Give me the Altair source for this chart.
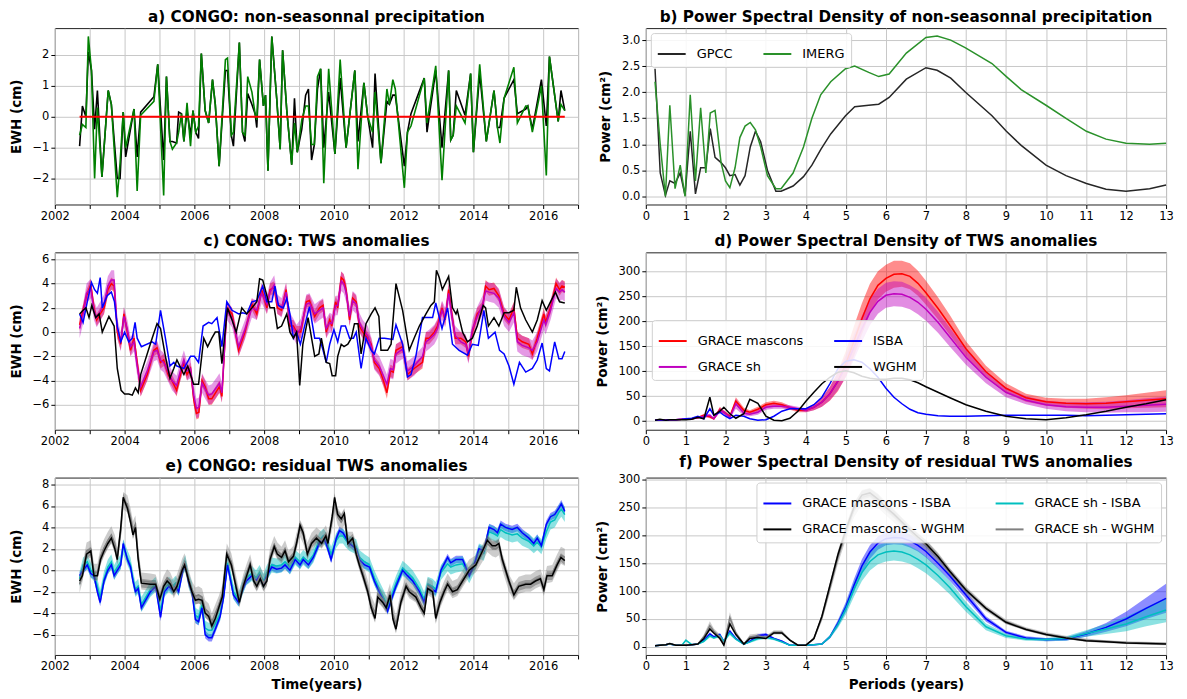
import altair as alt
import pandas as pd

FONT = "DejaVu Sans"

# ---------------- a) precipitation anomalies ----------------
precip_time = [2002.71, 2002.79, 2002.89, 2002.96, 2003.05, 2003.14, 2003.22, 2003.35, 2003.53, 2003.62,
               2003.79, 2003.87, 2003.96, 2004.03, 2004.27, 2004.36, 2004.46, 2004.84, 2004.95, 2005.12,
               2005.20, 2005.30, 2005.37, 2005.49, 2005.55, 2005.63, 2005.70, 2005.79, 2005.89, 2005.96,
               2006.04, 2006.12, 2006.20, 2006.31, 2006.41, 2006.52, 2006.60, 2006.71, 2006.89, 2006.95,
               2007.06, 2007.12, 2007.29, 2007.38, 2007.45, 2007.53, 2007.65, 2007.74, 2007.79, 2007.87,
               2007.98, 2008.04, 2008.11, 2008.22, 2008.36, 2008.46, 2008.53, 2008.65, 2008.79, 2008.87,
               2008.95, 2009.08, 2009.19, 2009.27, 2009.36, 2009.44, 2009.53, 2009.62, 2009.71, 2009.85,
               2010.03, 2010.18, 2010.35, 2010.60, 2010.69, 2010.86, 2010.97, 2011.11, 2011.18, 2011.35,
               2011.52, 2011.59, 2011.69, 2011.76, 2012.02, 2012.11, 2012.21, 2012.59, 2012.67, 2012.92,
               2013.10, 2013.29, 2013.35, 2013.42, 2013.51, 2013.76, 2013.92, 2014.00, 2014.18, 2014.37,
               2014.59, 2014.69, 2014.76, 2014.88, 2015.16, 2015.26, 2015.50, 2015.56, 2015.69, 2015.95,
               2016.09, 2016.18, 2016.43, 2016.51, 2016.62]
gpcc_ts = [-0.95, 0.35, 0.0, 2.1, 1.5, -0.4, 0.85, -1.95, 0.85, 0.4,
           -2.0, -2.0, 0.15, -1.3, 0.25, -1.3, 0.15, 0.65, 1.7, -1.4,
           1.3, -0.8, -0.8, -0.85, 0.15, 0.1, -0.8, 0.2, -0.6, 0.2,
           -0.5, -0.7, 2.05, 0.2, -0.2, 1.2, 0.4, -1.6, 1.5, 1.5,
           -0.6, -0.95, 2.4, -0.5, -0.8, 0.75, 0.4, 0.1, -0.35, 1.85,
           0.35, 0.7, -1.75, 2.6, 0.6, -1.05, 2.15, 0.2, -1.55, 0.6,
           -1.15, -0.4, 0.7, 0.9, -1.4, -0.9, 0.9, 1.55, -1.0, 0.8,
           -1.2, 1.25, -1.0, 1.5, -0.8, 1.1, 0.0, -1.0, 1.4, -1.5,
           0.5, 0.4, 0.7, 0.7, -1.6, -0.5, 0.1, 1.25, -0.5, 1.5,
           -1.0, 1.5, -0.75, -0.6, 0.85, 0.05, 1.4, -1.15, 1.4, -0.8,
           0.85, -0.35, -0.35, 0.6, 1.2, 0.1, 0.25, 0.35, -0.4, 1.2,
           -0.3, 1.95, -0.15, 0.85, 0.2]
imerg_ts = [-0.6, -0.25, -0.35, 2.6, 1.5, -2.0, 0.3, -1.95, 0.85, 0.4,
            -2.6, -1.5, 0.15, -1.0, 0.25, -2.4, 0.05, 0.5, 1.7, -2.55,
            1.3, -0.8, -1.05, -0.85, -0.5, 0.1, -0.8, 0.45, -0.95, 0.2,
            -0.5, -0.3, 2.05, 0.2, -0.2, 1.2, 0.4, -1.6, 1.85, 1.9,
            -0.6, -0.5, 2.4, -0.5, -0.6, 1.3, 0.8, 0.1, -0.1, 1.85,
            0.35, 0.7, -1.75, 2.6, 0.6, -1.05, 2.15, 0.2, -1.55, -0.2,
            -1.15, -0.1, 0.35, 0.35, -0.9, -0.9, 1.3, 1.55, -2.15, 1.55,
            -1.2, 1.85, -1.0, 1.5, -1.7, 1.1, 0.0, -0.5, 0.8, -1.5,
            0.9, 0.4, 1.2, 0.9, -2.3, -0.5, -0.3, 1.25, -0.2, 1.65,
            -2.05, 1.5, -0.75, -0.6, 0.35, -0.2, 1.4, -1.15, 1.7, -0.8,
            0.85, -0.35, -0.85, 0.6, 1.6, -0.2, 0.35, 0.35, -0.5, 1.0,
            -1.9, 1.95, -0.15, 0.4, 0.2]
zero_time = [2002.71, 2016.62]
zero_val = [0.0, 0.0]

# ---------------- c) TWS anomalies ----------------
tws_mascons = [
    (2002.71, 0.6), (2002.81, 1.8), (2002.91, 3.0), (2003.03, 3.9), (2003.12, 2.0), (2003.20, 1.0), (2003.30, 1.5), (2003.41, 2.0), (2003.52, 3.5), (2003.62, 4.0),
    (2003.70, 3.8), (2003.79, 0.0), (2003.89, -1.0), (2003.98, 1.5), (2004.08, 0.0), (2004.17, -1.5), (2004.27, -0.5), (2004.36, -2.5), (2004.46, -4.8), (2004.65, -3.5),
    (2004.84, -1.5), (2004.93, -1.3), (2005.03, -2.5), (2005.12, -2.3), (2005.25, -3.5), (2005.36, -4.0), (2005.49, -4.8), (2005.60, -3.5), (2005.70, -2.5), (2005.79, -3.5),
    (2005.89, -3.0), (2005.98, -5.5), (2006.06, -6.7), (2006.13, -6.6), (2006.22, -4.0), (2006.31, -4.5), (2006.41, -5.5), (2006.50, -5.5), (2006.65, -4.8), (2006.72, -4.5),
    (2006.79, -5.3), (2006.93, 2.0), (2007.08, 1.5), (2007.27, -1.5), (2007.45, 0.0), (2007.65, 2.3), (2007.79, 1.5), (2007.93, 3.5), (2008.08, 2.0), (2008.17, 3.5),
    (2008.29, 3.7), (2008.38, 2.0), (2008.50, 1.8), (2008.63, 3.5), (2008.74, 0.5), (2008.84, 0.5), (2008.93, 0.0), (2009.05, 0.0), (2009.21, 2.5), (2009.30, 2.6),
    (2009.45, 1.3), (2009.59, 2.0), (2009.69, 2.2), (2009.78, 0.0), (2009.88, 1.0), (2009.94, 0.5), (2010.05, 2.5), (2010.11, 2.0), (2010.21, 4.5), (2010.28, 4.3),
    (2010.35, 3.5), (2010.45, 1.0), (2010.54, 2.8), (2010.64, 2.5), (2010.73, 0.5), (2010.83, 0.0), (2010.97, -0.5), (2011.07, -1.0), (2011.16, -2.5), (2011.30, -3.0),
    (2011.42, -4.0), (2011.52, -5.0), (2011.62, -3.2), (2011.70, -3.3), (2011.78, -1.5), (2011.97, -1.2), (2012.11, -3.5), (2012.30, -3.0), (2012.54, -2.5), (2012.64, -0.5),
    (2012.73, -0.5), (2012.88, 0.0), (2012.97, 0.5), (2013.10, 2.0), (2013.19, 1.0), (2013.29, 3.5), (2013.38, 1.5), (2013.48, -0.5), (2013.64, -0.5), (2013.78, -0.8),
    (2013.86, -2.0), (2013.97, 0.0), (2014.11, 1.5), (2014.26, 2.0), (2014.35, 3.8), (2014.45, 3.5), (2014.59, 3.6), (2014.73, 3.0), (2014.88, 1.5), (2015.02, 1.0),
    (2015.16, 2.0), (2015.26, -0.5), (2015.40, -0.8), (2015.59, -1.0), (2015.69, -1.8), (2015.83, -0.5), (2016.02, 1.5), (2016.07, 0.8), (2016.21, 2.0), (2016.37, 4.0),
    (2016.47, 3.5), (2016.54, 3.8), (2016.62, 3.7)]
tws_sh = [
    (2002.71, 0.3), (2002.81, 1.5), (2002.91, 3.2), (2003.03, 3.6), (2003.12, 1.8), (2003.20, 1.2), (2003.30, 1.7), (2003.41, 2.3), (2003.52, 3.8), (2003.62, 4.3),
    (2003.70, 4.3), (2003.79, 0.3), (2003.89, -0.8), (2003.98, 1.3), (2004.08, 0.2), (2004.17, -1.2), (2004.27, -0.8), (2004.36, -2.8), (2004.46, -4.5), (2004.65, -3.2),
    (2004.84, -1.6), (2004.93, -1.5), (2005.03, -2.3), (2005.12, -2.5), (2005.25, -3.3), (2005.36, -4.0), (2005.49, -4.4), (2005.60, -3.2), (2005.70, -2.3), (2005.79, -3.2),
    (2005.89, -3.0), (2005.98, -5.2), (2006.06, -6.3), (2006.13, -6.2), (2006.22, -4.2), (2006.31, -4.7), (2006.41, -5.2), (2006.50, -5.1), (2006.65, -4.5), (2006.72, -4.2),
    (2006.79, -5.0), (2006.93, 1.8), (2007.08, 1.2), (2007.27, -1.2), (2007.45, 0.2), (2007.65, 2.0), (2007.79, 1.8), (2007.93, 3.2), (2008.08, 2.3), (2008.17, 3.3),
    (2008.29, 3.9), (2008.38, 2.3), (2008.50, 2.0), (2008.63, 3.3), (2008.74, 0.8), (2008.84, 0.3), (2008.93, -0.2), (2009.05, 0.3), (2009.21, 2.3), (2009.30, 2.4),
    (2009.45, 1.5), (2009.59, 1.8), (2009.69, 2.0), (2009.78, 0.3), (2009.88, 0.8), (2009.94, 0.7), (2010.05, 2.2), (2010.11, 2.2), (2010.21, 4.2), (2010.28, 4.0),
    (2010.35, 3.3), (2010.45, 1.3), (2010.54, 2.6), (2010.64, 2.3), (2010.73, 0.8), (2010.83, 0.2), (2010.97, -0.3), (2011.07, -1.2), (2011.16, -2.3), (2011.30, -2.8),
    (2011.42, -3.6), (2011.52, -4.3), (2011.62, -3.0), (2011.70, -3.1), (2011.78, -1.8), (2011.97, -1.4), (2012.11, -3.2), (2012.30, -2.8), (2012.54, -2.0), (2012.64, -0.8),
    (2012.73, -0.6), (2012.88, -0.2), (2012.97, 0.3), (2013.10, 1.8), (2013.19, 1.2), (2013.29, 3.2), (2013.38, 1.3), (2013.48, -0.3), (2013.64, -0.8), (2013.78, -1.0),
    (2013.86, -1.8), (2013.97, 0.2), (2014.11, 1.3), (2014.26, 2.2), (2014.35, 3.4), (2014.45, 3.3), (2014.59, 3.2), (2014.73, 2.8), (2014.88, 1.3), (2015.02, 0.8),
    (2015.16, 1.6), (2015.26, -0.8), (2015.40, -1.1), (2015.59, -1.3), (2015.69, -1.5), (2015.83, -0.8), (2016.02, 1.0), (2016.07, 0.6), (2016.21, 1.8), (2016.37, 3.6),
    (2016.47, 3.3), (2016.54, 3.5), (2016.62, 3.3)]
tws_isba = [
    (2002.71, 1.5), (2002.81, 0.8), (2002.93, 2.5), (2003.05, 4.1), (2003.14, 3.5), (2003.22, 3.2), (2003.30, 4.5), (2003.36, 2.0), (2003.50, 3.0), (2003.62, 3.3),
    (2003.71, 2.5), (2003.79, 0.5), (2003.89, -0.8), (2004.00, 0.0), (2004.12, -0.8), (2004.22, -0.5), (2004.30, 0.8), (2004.36, -0.5), (2004.48, -1.2), (2004.79, -0.8),
    (2004.89, -1.0), (2005.03, 1.8), (2005.17, -0.5), (2005.30, -2.8), (2005.41, -2.5), (2005.50, -2.8), (2005.70, -3.0), (2005.89, -2.0), (2006.00, -2.0), (2006.12, -2.5),
    (2006.25, 0.5), (2006.41, 0.8), (2006.50, 0.7), (2006.65, 1.2), (2006.79, -1.2), (2006.93, 2.5), (2007.08, 1.8), (2007.27, 1.5), (2007.38, 1.6), (2007.50, 1.5),
    (2007.65, 2.5), (2007.79, 2.6), (2007.96, 3.8), (2008.08, 2.5), (2008.22, 2.5), (2008.31, 3.8), (2008.41, 2.2), (2008.55, 2.0), (2008.65, 2.8), (2008.74, 1.5),
    (2008.84, -0.5), (2008.93, 0.0), (2009.04, -1.0), (2009.16, 0.5), (2009.30, 2.1), (2009.45, -0.5), (2009.59, -0.5), (2009.69, -1.5), (2009.78, -2.5), (2009.88, -1.0),
    (2010.00, 0.2), (2010.11, -0.8), (2010.21, 0.5), (2010.33, 0.5), (2010.45, -0.5), (2010.56, -0.5), (2010.64, 0.0), (2010.78, -3.0), (2010.92, -0.5), (2011.07, -1.5),
    (2011.16, -1.8), (2011.30, -0.5), (2011.45, -0.5), (2011.69, -0.6), (2011.78, 0.6), (2011.97, -1.0), (2012.11, -3.7), (2012.21, -3.5), (2012.35, -2.0), (2012.54, 1.2),
    (2012.69, 1.2), (2012.83, 1.2), (2012.92, 2.4), (2013.10, 0.3), (2013.26, 2.0), (2013.40, -1.0), (2013.59, -1.5), (2013.83, -1.9), (2013.97, -1.0), (2014.14, -1.1),
    (2014.30, 1.8), (2014.43, -0.5), (2014.62, 0.0), (2014.75, -1.5), (2014.88, -1.8), (2015.02, -2.8), (2015.16, -4.3), (2015.32, -2.5), (2015.50, -3.3), (2015.69, -3.0),
    (2015.83, -2.3), (2015.97, -0.9), (2016.09, -3.0), (2016.18, -3.2), (2016.33, -0.8), (2016.45, -2.2), (2016.54, -2.2), (2016.62, -1.6)]
tws_wghm = [
    (2002.71, 1.5), (2002.81, 1.8), (2002.89, 2.0), (2002.98, 1.2), (2003.06, 2.2), (2003.17, 1.2), (2003.27, 1.5), (2003.36, 0.0), (2003.55, 1.3), (2003.70, 0.5),
    (2003.79, -3.0), (2003.90, -4.8), (2004.00, -5.1), (2004.12, -5.1), (2004.22, -5.2), (2004.31, -4.6), (2004.39, -5.0), (2004.46, -3.5), (2004.79, -0.5), (2004.93, 0.7),
    (2005.03, 0.3), (2005.17, -2.0), (2005.30, -3.8), (2005.41, -3.0), (2005.50, -2.3), (2005.70, -3.5), (2005.81, -2.8), (2005.98, -4.3), (2006.12, -4.3), (2006.27, -0.5),
    (2006.38, -1.2), (2006.50, -0.5), (2006.60, 0.0), (2006.70, 0.0), (2006.79, -2.6), (2006.95, 2.0), (2007.08, 1.0), (2007.20, 0.0), (2007.36, 2.0), (2007.50, 1.5),
    (2007.65, 2.0), (2007.79, 2.5), (2007.87, 4.4), (2007.96, 4.3), (2008.08, 3.0), (2008.17, 2.0), (2008.29, 2.0), (2008.38, 0.3), (2008.50, 0.5), (2008.65, 1.5),
    (2008.74, 0.0), (2008.84, -0.5), (2008.93, 0.0), (2009.02, -4.4), (2009.11, -1.0), (2009.26, 1.2), (2009.45, -2.0), (2009.57, -1.8), (2009.64, -0.5), (2009.78, -2.5),
    (2009.88, -2.6), (2009.95, -3.6), (2010.05, -3.6), (2010.11, -2.0), (2010.21, -1.0), (2010.29, -1.2), (2010.40, -1.0), (2010.50, -0.5), (2010.59, 0.7), (2010.69, 0.7),
    (2010.78, -1.8), (2010.92, 0.7), (2011.07, 1.5), (2011.18, 2.0), (2011.29, 1.3), (2011.35, -1.5), (2011.54, -1.5), (2011.64, -1.0), (2011.78, 4.0), (2011.97, 1.8),
    (2012.16, -1.5), (2012.30, -0.5), (2012.45, 0.5), (2012.64, 1.5), (2012.78, 2.2), (2012.88, 2.5), (2012.94, 5.1), (2013.02, 4.5), (2013.11, 3.5), (2013.29, 4.6),
    (2013.40, 2.0), (2013.50, 1.5), (2013.54, 1.8), (2013.69, 0.0), (2013.83, -0.8), (2013.97, -0.5), (2014.11, 0.5), (2014.28, 2.2), (2014.35, 2.0), (2014.43, 0.5),
    (2014.59, 1.2), (2014.73, 0.5), (2014.88, 1.6), (2015.02, 1.6), (2015.16, 1.8), (2015.23, 3.7), (2015.35, 2.0), (2015.50, 1.0), (2015.69, 0.0), (2015.83, 1.0),
    (2015.97, 2.6), (2016.09, 1.8), (2016.21, 2.5), (2016.35, 3.3), (2016.47, 2.5), (2016.62, 2.4)]
tws_mascons_err = 0.5
tws_sh_err = 0.8

# ---------------- e) residual TWS anomalies ----------------
res_mascons_isba = [
    (2002.71, -0.5), (2002.81, 0.0), (2002.93, 0.5), (2003.03, -0.3), (2003.12, -0.5), (2003.22, -2.0), (2003.30, -3.0), (2003.41, -1.0), (2003.52, 0.0), (2003.62, 0.5),
    (2003.70, -0.5), (2003.79, 0.0), (2003.89, 0.5), (2003.96, 2.5), (2004.08, 1.0), (2004.17, 0.3), (2004.24, -1.0), (2004.31, -2.0), (2004.39, -1.7), (2004.48, -3.5),
    (2004.74, -2.0), (2004.89, -1.5), (2005.03, -4.4), (2005.14, -2.0), (2005.27, -1.5), (2005.36, -1.8), (2005.46, -1.5), (2005.55, -2.0), (2005.67, 0.0), (2005.74, 0.5),
    (2005.84, -1.2), (2005.93, -2.0), (2006.03, -4.6), (2006.12, -4.8), (2006.22, -3.5), (2006.31, -6.0), (2006.41, -6.3), (2006.50, -6.3), (2006.60, -5.5), (2006.74, -4.3),
    (2006.84, -2.5), (2006.95, 0.5), (2007.12, -2.3), (2007.27, -3.0), (2007.36, -2.0), (2007.49, -1.0), (2007.65, -0.5), (2007.77, -1.0), (2007.87, -0.5), (2007.98, -1.3),
    (2008.08, -0.5), (2008.22, 0.3), (2008.36, 0.1), (2008.50, 0.2), (2008.60, 0.5), (2008.74, 0.0), (2008.89, 1.0), (2009.03, 0.5), (2009.12, 1.0), (2009.27, 0.5),
    (2009.41, 1.2), (2009.58, 2.5), (2009.70, 3.0), (2009.78, 2.5), (2009.92, 1.0), (2010.07, 3.0), (2010.16, 3.7), (2010.26, 3.5), (2010.35, 3.0), (2010.45, 2.5),
    (2010.64, 2.0), (2010.73, 1.0), (2010.88, 0.5), (2011.02, 0.3), (2011.16, -1.0), (2011.30, -2.0), (2011.45, -3.0), (2011.54, -3.8), (2011.64, -2.8), (2011.78, -1.5),
    (2011.97, 0.0), (2012.11, -0.5), (2012.26, -1.0), (2012.45, -2.0), (2012.59, -3.0), (2012.69, -1.5), (2012.83, -1.8), (2012.92, -2.0), (2013.07, 0.0), (2013.26, 1.2),
    (2013.35, 0.7), (2013.50, 1.0), (2013.69, 1.0), (2013.88, -0.5), (2014.02, 0.5), (2014.16, 2.0), (2014.30, 1.8), (2014.45, 4.0), (2014.59, 3.8), (2014.69, 3.5),
    (2014.78, 4.3), (2014.92, 4.0), (2015.11, 3.8), (2015.26, 4.0), (2015.40, 3.5), (2015.59, 3.0), (2015.73, 2.5), (2015.83, 3.0), (2015.95, 2.3), (2016.09, 4.3),
    (2016.21, 5.0), (2016.33, 5.2), (2016.45, 5.8), (2016.52, 6.2), (2016.62, 5.5)]
res_sh_isba = [
    (2002.71, -0.8), (2002.81, 0.5), (2002.93, 0.8), (2003.03, 0.0), (2003.12, -0.3), (2003.22, -1.5), (2003.30, -2.5), (2003.41, -0.8), (2003.52, 0.3), (2003.62, 0.8),
    (2003.70, -0.2), (2003.79, 0.3), (2003.89, 0.8), (2003.96, 2.2), (2004.08, 1.2), (2004.17, 0.5), (2004.24, -0.8), (2004.31, -1.8), (2004.39, -1.5), (2004.48, -3.2),
    (2004.74, -1.8), (2004.89, -1.3), (2005.03, -3.8), (2005.14, -1.8), (2005.27, -1.3), (2005.36, -1.6), (2005.46, -1.2), (2005.55, -1.7), (2005.67, 0.2), (2005.74, 0.7),
    (2005.84, -1.0), (2005.93, -1.8), (2006.03, -4.2), (2006.12, -4.4), (2006.22, -3.2), (2006.31, -5.4), (2006.41, -5.6), (2006.50, -5.6), (2006.60, -5.0), (2006.74, -4.0),
    (2006.84, -2.3), (2006.95, 0.7), (2007.12, -2.0), (2007.27, -2.7), (2007.36, -1.8), (2007.49, -0.7), (2007.65, -0.3), (2007.77, -0.7), (2007.87, -0.2), (2007.98, -1.0),
    (2008.08, -0.2), (2008.22, 0.5), (2008.36, 0.4), (2008.50, 0.5), (2008.60, 0.8), (2008.74, 0.3), (2008.89, 1.2), (2009.03, 0.8), (2009.12, 1.2), (2009.27, 0.8),
    (2009.41, 1.4), (2009.58, 2.8), (2009.70, 3.2), (2009.78, 2.8), (2009.92, 1.5), (2010.07, 2.8), (2010.16, 3.2), (2010.26, 3.2), (2010.35, 2.8), (2010.45, 2.5),
    (2010.64, 2.2), (2010.73, 1.2), (2010.88, 0.8), (2011.02, 0.5), (2011.16, -0.7), (2011.30, -1.7), (2011.45, -2.7), (2011.54, -3.4), (2011.64, -2.5), (2011.78, -1.2),
    (2011.97, 0.2), (2012.11, -0.2), (2012.26, -0.7), (2012.45, -1.7), (2012.59, -2.7), (2012.69, -1.3), (2012.83, -1.5), (2012.92, -1.8), (2013.07, -0.2), (2013.26, 0.6),
    (2013.35, 0.3), (2013.50, 0.5), (2013.69, 0.6), (2013.88, -0.5), (2014.02, 0.4), (2014.16, 1.8), (2014.30, 1.6), (2014.45, 3.6), (2014.59, 3.4), (2014.69, 3.2),
    (2014.78, 3.8), (2014.92, 3.5), (2015.11, 3.3), (2015.26, 3.4), (2015.40, 3.0), (2015.59, 2.7), (2015.73, 2.3), (2015.83, 2.6), (2015.95, 2.2), (2016.09, 3.6),
    (2016.21, 4.5), (2016.33, 4.7), (2016.45, 5.4), (2016.52, 5.7), (2016.62, 5.2)]
res_mascons_wghm = [
    (2002.71, -1.0), (2002.79, -0.5), (2002.91, 1.5), (2003.03, 1.8), (2003.12, -0.5), (2003.22, -0.5), (2003.31, 1.0), (2003.41, 1.8), (2003.52, 2.5), (2003.62, 3.0),
    (2003.72, 2.0), (2003.79, 1.0), (2003.89, 4.0), (2003.96, 6.8), (2004.08, 5.8), (2004.17, 4.5), (2004.24, 3.3), (2004.31, 4.0), (2004.39, 1.0), (2004.48, -1.2),
    (2004.74, -1.3), (2004.89, -1.3), (2005.01, -2.7), (2005.12, -1.5), (2005.22, -1.0), (2005.31, -1.3), (2005.41, -2.0), (2005.50, -1.5), (2005.65, 0.0), (2005.72, 0.5),
    (2005.84, -1.0), (2005.93, -2.0), (2006.03, -2.8), (2006.12, -2.7), (2006.22, -2.8), (2006.31, -4.0), (2006.41, -4.3), (2006.50, -5.2), (2006.60, -4.5), (2006.70, -3.5),
    (2006.80, -2.5), (2006.93, 1.5), (2007.06, 0.5), (2007.19, -1.5), (2007.29, -3.0), (2007.40, -1.5), (2007.50, -0.5), (2007.60, 0.5), (2007.70, -1.0), (2007.79, -1.5),
    (2007.89, -0.8), (2007.98, -1.5), (2008.08, -1.0), (2008.17, 1.0), (2008.29, 2.2), (2008.38, 1.5), (2008.50, 1.2), (2008.60, 1.8), (2008.70, 0.8), (2008.84, 1.3),
    (2008.93, 2.5), (2009.03, 4.2), (2009.12, 3.5), (2009.24, 1.5), (2009.36, 2.5), (2009.50, 3.0), (2009.65, 2.5), (2009.77, 3.2), (2009.83, 2.5), (2009.95, 5.0),
    (2010.02, 6.8), (2010.11, 5.2), (2010.21, 4.8), (2010.30, 5.3), (2010.40, 2.5), (2010.54, 3.0), (2010.64, 1.5), (2010.73, 0.5), (2010.83, -0.5), (2010.97, -2.0),
    (2011.07, -3.5), (2011.18, -4.5), (2011.26, -2.5), (2011.40, -3.0), (2011.50, -3.5), (2011.61, -2.3), (2011.69, -4.5), (2011.78, -5.5), (2011.92, -3.0), (2012.07, -1.5),
    (2012.16, -2.0), (2012.35, -2.5), (2012.50, -3.5), (2012.59, -4.0), (2012.69, -1.7), (2012.83, -2.0), (2012.92, -4.5), (2013.04, -3.0), (2013.16, -2.0), (2013.26, -1.3),
    (2013.40, -2.0), (2013.54, -1.8), (2013.69, -1.0), (2013.88, 0.0), (2014.07, 0.5), (2014.26, 1.8), (2014.40, 2.8), (2014.54, 2.3), (2014.64, 2.3), (2014.73, 2.5),
    (2014.83, 1.0), (2015.02, -1.0), (2015.16, -2.3), (2015.30, -1.5), (2015.50, -1.3), (2015.64, -1.3), (2015.78, -1.0), (2015.92, -0.8), (2016.02, -1.8), (2016.11, -0.5),
    (2016.26, -0.5), (2016.40, 0.5), (2016.51, 1.2), (2016.62, 0.9)]
res_sh_wghm = [
    (2002.71, -1.3), (2002.79, -0.3), (2002.91, 1.8), (2003.03, 2.0), (2003.12, -0.2), (2003.22, -0.2), (2003.31, 1.3), (2003.41, 2.1), (2003.52, 2.8), (2003.62, 3.3),
    (2003.72, 2.5), (2003.79, 1.3), (2003.89, 3.6), (2003.96, 6.5), (2004.08, 6.2), (2004.17, 5.0), (2004.24, 3.8), (2004.31, 4.3), (2004.39, 1.3), (2004.48, -1.0),
    (2004.74, -1.1), (2004.89, -1.2), (2005.01, -2.4), (2005.12, -1.3), (2005.22, -0.7), (2005.31, -1.0), (2005.41, -1.8), (2005.50, -1.2), (2005.65, 0.3), (2005.72, 0.8),
    (2005.84, -0.8), (2005.93, -1.8), (2006.03, -2.4), (2006.12, -2.3), (2006.22, -2.5), (2006.31, -3.6), (2006.41, -3.9), (2006.50, -4.8), (2006.60, -4.0), (2006.70, -3.2),
    (2006.80, -2.2), (2006.93, 1.7), (2007.06, 0.8), (2007.19, -1.2), (2007.29, -2.7), (2007.40, -1.2), (2007.50, -0.2), (2007.60, 0.7), (2007.70, -0.7), (2007.79, -1.2),
    (2007.89, -0.5), (2007.98, -1.2), (2008.08, -0.7), (2008.17, 1.3), (2008.29, 2.4), (2008.38, 1.8), (2008.50, 1.4), (2008.60, 2.0), (2008.70, 1.0), (2008.84, 1.5),
    (2008.93, 2.7), (2009.03, 3.9), (2009.12, 3.3), (2009.24, 1.8), (2009.36, 2.7), (2009.50, 3.2), (2009.65, 2.8), (2009.77, 3.4), (2009.83, 2.8), (2009.95, 4.6),
    (2010.02, 6.2), (2010.11, 5.0), (2010.21, 4.5), (2010.30, 5.0), (2010.40, 2.8), (2010.54, 2.8), (2010.64, 1.8), (2010.73, 0.8), (2010.83, -0.2), (2010.97, -1.7),
    (2011.07, -3.2), (2011.18, -4.0), (2011.26, -2.2), (2011.40, -2.7), (2011.50, -3.2), (2011.61, -2.0), (2011.69, -4.0), (2011.78, -5.0), (2011.92, -2.8), (2012.07, -1.3),
    (2012.16, -1.8), (2012.35, -2.2), (2012.50, -3.2), (2012.59, -3.7), (2012.69, -1.5), (2012.83, -1.8), (2012.92, -4.2), (2013.04, -2.8), (2013.16, -1.8), (2013.26, -1.1),
    (2013.40, -1.8), (2013.54, -1.6), (2013.69, -0.8), (2013.88, 0.2), (2014.07, 0.6), (2014.26, 1.6), (2014.40, 2.5), (2014.54, 2.1), (2014.64, 2.0), (2014.73, 2.2),
    (2014.83, 0.8), (2015.02, -1.2), (2015.16, -2.0), (2015.30, -1.4), (2015.50, -1.2), (2015.64, -1.2), (2015.78, -0.9), (2015.92, -0.7), (2016.02, -1.6), (2016.11, -0.4),
    (2016.26, -0.3), (2016.40, 0.7), (2016.51, 1.4), (2016.62, 1.2)]
res_err_mascons_isba = 0.35
res_err_sh_isba = 0.7
res_err_mascons_wghm = 0.4
res_err_sh_wghm = 0.8

# ---------------- b) PSD precipitation ----------------
psd_period_precip = [0.23, 0.36, 0.49, 0.60, 0.73, 0.86, 0.98, 1.11, 1.24, 1.37,
                     1.50, 1.61, 1.73, 1.88, 1.99, 2.10, 2.23, 2.35, 2.48, 2.61,
                     2.74, 2.87, 3.04, 3.25, 3.38, 3.68, 3.94, 4.15, 4.37, 4.62,
                     4.99, 5.22, 5.57, 5.82, 6.08, 6.51, 7.00, 7.28, 7.62, 7.99,
                     8.65, 9.01, 9.38, 10.0, 10.5, 11.01, 11.5, 12.0, 12.59, 13.0]
psd_gpcc = [2.45, 0.45, 0.02, 0.3, 0.25, 0.45, 0.02, 1.25, 0.05, 0.55,
            0.55, 1.3, 0.75, 0.65, 0.55, 0.4, 0.42, 0.22, 0.4, 0.95,
            1.25, 1.05, 0.5, 0.1, 0.1, 0.2, 0.38, 0.6, 0.9, 1.2,
            1.55, 1.72, 1.75, 1.77, 1.9, 2.25, 2.47, 2.42, 2.27, 2.0,
            1.55, 1.25, 0.98, 0.6, 0.4, 0.25, 0.14, 0.1, 0.15, 0.22]
psd_imerg = [2.2, 1.0, 0.0, 1.75, 0.15, 0.6, 0.0, 1.95, 0.3, 1.7,
             0.45, 1.6, 1.65, 0.65, 0.3, 0.17, 0.55, 1.13, 1.35, 1.42,
             1.28, 0.95, 0.4, 0.15, 0.15, 0.45, 0.95, 1.5, 1.95, 2.2,
             2.45, 2.5, 2.38, 2.3, 2.35, 2.75, 3.05, 3.08, 3.0, 2.85,
             2.55, 2.3, 2.05, 1.75, 1.5, 1.25, 1.1, 1.02, 1.0, 1.02]

# ---------------- d) / f) PSD TWS ----------------
psd_period = [0.23, 0.35, 0.5, 0.6, 0.75, 0.9, 1.0, 1.15, 1.3, 1.45,
              1.6, 1.7, 1.85, 1.95, 2.1, 2.25, 2.45, 2.6, 2.8, 3.0,
              3.2, 3.4, 3.6, 3.8, 4.0, 4.2, 4.4, 4.6, 4.8, 5.0,
              5.2, 5.4, 5.6, 5.8, 6.0, 6.2, 6.4, 6.6, 6.8, 7.0,
              7.3, 7.6, 8.0, 8.5, 9.0, 9.5, 10.0, 10.5, 11.0, 11.5,
              12.0, 12.5, 13.0]
psd_mascons = [2, 3, 2, 3, 3, 4, 4, 5, 7, 12,
               9, 5, 24, 18, 10, 40, 22, 18, 24, 33,
               36, 33, 27, 22, 22, 28, 38, 55, 80, 115,
               160, 205, 245, 272, 286, 294, 295, 290, 276, 257,
               226, 192, 145, 99, 66, 47, 39, 36, 35, 36,
               39, 42, 45]
psd_mascons_sd = [1, 1, 1, 1, 1, 1, 1, 1, 2, 3,
                  3, 2, 5, 4, 3, 8, 5, 4, 5, 5,
                  5, 5, 4, 4, 4, 6, 9, 14, 20, 26,
                  30, 31, 30, 28, 27, 27, 26, 26, 25, 24,
                  22, 20, 15, 12, 10, 8, 8, 9, 10, 12,
                  13, 15, 17]
psd_sh = [2, 3, 2, 3, 3, 4, 4, 5, 7, 10,
          12, 5, 22, 18, 8, 35, 16, 14, 18, 28,
          30, 30, 28, 25, 22, 28, 38, 55, 80, 110,
          148, 185, 218, 240, 252, 255, 254, 248, 238, 224,
          198, 168, 128, 88, 58, 42, 33, 29, 28, 28,
          30, 32, 34]
psd_sh_sd = [1, 1, 1, 1, 1, 1, 1, 1, 2, 3,
             3, 2, 5, 4, 3, 10, 5, 4, 5, 5,
             5, 5, 4, 4, 4, 6, 9, 13, 18, 22,
             25, 26, 26, 25, 25, 25, 25, 24, 24, 23,
             21, 19, 15, 12, 10, 8, 8, 9, 10, 11,
             12, 14, 15]
psd_isba = [2, 3, 2, 3, 3, 4, 5, 6, 10, 5,
            25, 12, 18, 12, 5, 12, 10, 5, 2, 3,
            10, 20, 25, 25, 25, 33, 48, 75, 105, 120,
            123, 118, 105, 88, 66, 48, 35, 24, 17, 14,
            11, 10, 10, 11, 12, 12, 12, 12, 11, 12,
            13, 14, 15]
psd_wghm = [2, 4, 2, 3, 3, 3, 3, 4, 8, 5,
            48, 12, 20, 28, 15, 6, 15, 44, 36, 10,
            2, 1, 6, 20, 40, 58, 75, 88, 98, 101,
            97, 90, 86, 84, 84, 86, 86, 83, 77, 69,
            58, 47, 33, 20, 10, 5, 3, 7, 13, 20,
            28, 35, 43]

psd_r_mascons_isba = [2, 3, 4, 5, 3, 3, 3, 4, 5, 12,
                      23, 18, 22, 10, 28, 15, 5, 10, 20, 22,
                      15, 10, 3, 3, 3, 4, 5, 18, 42, 72,
                      110, 145, 170, 186, 194, 196, 195, 190, 182, 171,
                      150, 127, 93, 50, 26, 16, 13, 14, 23, 35,
                      50, 69, 87]
psd_r_mascons_isba_sd = [1, 1, 1, 1, 1, 1, 1, 1, 1, 2,
                         3, 2, 3, 2, 3, 2, 1, 2, 3, 3,
                         2, 2, 1, 1, 1, 1, 1, 3, 6, 9,
                         11, 12, 12, 12, 12, 12, 12, 12, 11, 11,
                         10, 9, 7, 5, 3, 3, 3, 3, 5, 8,
                         13, 19, 26]
psd_r_sh_isba = [2, 3, 4, 5, 3, 3, 12, 4, 5, 10,
                 20, 16, 20, 10, 25, 14, 5, 9, 15, 17,
                 14, 9, 3, 3, 3, 4, 5, 18, 40, 68,
                 103, 133, 153, 165, 170, 172, 170, 165, 157, 147,
                 128, 106, 72, 36, 20, 14, 13, 15, 24, 32,
                 41, 54, 66]
psd_r_sh_isba_sd = [1, 1, 1, 1, 1, 1, 2, 1, 1, 2,
                    3, 2, 3, 2, 4, 2, 1, 2, 3, 3,
                    2, 2, 1, 1, 1, 1, 1, 3, 6, 10,
                    13, 15, 16, 17, 17, 17, 17, 16, 16, 15,
                    14, 12, 9, 6, 4, 3, 3, 4, 6, 9,
                    13, 17, 22]
psd_r_mascons_wghm = [2, 3, 4, 6, 3, 3, 3, 4, 5, 15,
                      32, 25, 15, 3, 41, 22, 5, 15, 17, 15,
                      25, 25, 12, 3, 3, 15, 55, 110, 165, 210,
                      250, 272, 276, 265, 250, 238, 224, 210, 197, 185,
                      162, 135, 102, 69, 44, 31, 22, 16, 11, 9,
                      7, 6, 5]
psd_r_mascons_wghm_sd = [1, 1, 1, 1, 1, 1, 1, 1, 1, 2,
                         3, 2, 2, 1, 3, 2, 1, 2, 2, 2,
                         2, 2, 1, 1, 1, 2, 4, 6, 7, 8,
                         8, 8, 8, 8, 7, 7, 7, 6, 6, 6,
                         5, 5, 4, 3, 3, 2, 2, 2, 2, 2,
                         2, 2, 2]
psd_r_sh_wghm = [2, 3, 4, 6, 3, 3, 4, 4, 5, 18,
                 38, 28, 18, 4, 52, 25, 5, 18, 20, 17,
                 26, 26, 12, 3, 3, 15, 52, 105, 160, 205,
                 245, 268, 272, 262, 248, 235, 221, 207, 194, 182,
                 160, 133, 101, 69, 45, 32, 23, 17, 12, 10,
                 8, 7, 6]
psd_r_sh_wghm_sd = [1, 1, 1, 1, 1, 1, 1, 1, 1, 4,
                    8, 5, 4, 2, 10, 4, 1, 4, 4, 3,
                    4, 4, 2, 1, 1, 3, 6, 9, 11, 12,
                    13, 13, 13, 13, 12, 12, 11, 11, 10, 10,
                    9, 8, 7, 5, 4, 3, 3, 3, 3, 2,
                    2, 2, 2]

# ---------------- helpers ----------------
LW, RW = 525, 522
H1, H2, H3 = 177, 178, 178
PT = "Power (cm²)"


def pairs_df(pairs, name, err=0.0):
    return pd.DataFrame({
        "t": [p[0] for p in pairs],
        "v": [p[1] for p in pairs],
        "lo": [p[1] - err for p in pairs],
        "hi": [p[1] + err for p in pairs],
        "s": name,
    })


def psd_df(periods, vals, name, sd=None):
    d = pd.DataFrame({"t": periods, "v": vals, "s": name})
    if sd is not None:
        d["lo"] = [v - s for v, s in zip(vals, sd)]
        d["hi"] = [v + s for v, s in zip(vals, sd)]
    return d


def x_time(title=None):
    return alt.X("t:Q", scale=alt.Scale(domain=[2002, 2017], nice=False, zero=False),
                 axis=alt.Axis(values=list(range(2002, 2018)),
                               labelExpr="datum.value % 2 == 0 ? '' + datum.value : ''",
                               title=title, labelFlush=False))


def x_period(title=None):
    return alt.X("t:Q", scale=alt.Scale(domain=[0, 13], nice=False, zero=False),
                 axis=alt.Axis(values=list(range(0, 14)), title=title, labelFlush=False))


def y_enc(field, domain, values, title, fmt="d"):
    return alt.Y(field, scale=alt.Scale(domain=domain, nice=False, zero=False),
                 axis=alt.Axis(values=values, title=title, format=fmt))


def ttl(text):
    return alt.TitleParams(text, font=FONT, fontSize=15.3, fontWeight="bold", color="black",
                           anchor="middle", frame="group", offset=3)


def make_legend(**kw):
    return alt.Legend(title=None, symbolType="stroke", symbolSize=784, symbolStrokeWidth=2,
                      labelFont=FONT, labelFontSize=13, labelColor="black", labelLimit=400,
                      fillColor="rgba(255,255,255,0.85)", strokeColor="#d0d0d0", cornerRadius=3,
                      padding=6, columnPadding=26, rowPadding=4, labelOffset=10, **kw)


def band(df, color, opacity, x, ydom, yvals, ytitle, fmt="d"):
    return alt.Chart(df).mark_area(color=color, opacity=opacity, strokeWidth=0).encode(
        x=x, y=y_enc("lo:Q", ydom, yvals, ytitle, fmt), y2="hi:Q")


def line(df, x, ydom, yvals, ytitle, color, fmt="d", width=1.5):
    return alt.Chart(df).mark_line(strokeWidth=width, color=color).encode(
        x=x, y=y_enc("v:Q", ydom, yvals, ytitle, fmt))


def legend_lines(frames, x, ydom, yvals, ytitle, domain, rng, legend, fmt="d", width=1.5):
    # legend entries flow down the columns: domain is given column by column
    df = pd.concat(frames, ignore_index=True)
    return alt.Chart(df).mark_line(strokeWidth=width).encode(
        x=x, y=y_enc("v:Q", ydom, yvals, ytitle, fmt),
        color=alt.Color("s:N", scale=alt.Scale(domain=domain, range=rng), sort=domain, legend=legend))


# ---------------- panel a ----------------
ya_dom, ya_vals = [-2.84, 2.87], [-2, -1, 0, 1, 2]
df_gpcc = pd.DataFrame({"t": precip_time, "v": gpcc_ts, "s": "GPCC"})
df_imerg = pd.DataFrame({"t": precip_time, "v": imerg_ts, "s": "IMERG"})
df_zero = pd.DataFrame({"t": zero_time, "v": zero_val, "s": "zero"})
panel_a = alt.layer(
    line(df_gpcc, x_time(), ya_dom, ya_vals, "EWH (cm)", "black", width=1.6),
    line(df_imerg, x_time(), ya_dom, ya_vals, "EWH (cm)", "#008000", width=1.6),
    line(df_zero, x_time(), ya_dom, ya_vals, "EWH (cm)", "#ff0000", width=1.8),
).properties(width=LW, height=H1, title=ttl("a) CONGO: non-seasonnal precipitation"))

# ---------------- panel b ----------------
yb_dom, yb_vals = [-0.154, 3.23], [0, 0.5, 1.0, 1.5, 2.0, 2.5, 3.0]
panel_b = alt.layer(
    legend_lines([psd_df(psd_period_precip, psd_gpcc, "GPCC"),
                  psd_df(psd_period_precip, psd_imerg, "IMERG")],
                 x_period(), yb_dom, yb_vals, PT,
                 ["GPCC", "IMERG"], ["#262626", "#2a912a"],
                 make_legend(orient="top-left", direction="horizontal", offset=5), fmt=".1f"),
).properties(width=RW, height=H1, title=ttl("b) Power Spectral Density of non-seasonnal precipitation"))

# ---------------- panel c ----------------
yc_dom, yc_vals = [-8.05, 6.58], [-6, -4, -2, 0, 2, 4, 6]
d_m = pairs_df(tws_mascons, "GRACE mascons", tws_mascons_err)
d_s = pairs_df(tws_sh, "GRACE sh", tws_sh_err)
d_i = pairs_df(tws_isba, "ISBA")
d_w = pairs_df(tws_wghm, "WGHM")
panel_c = alt.layer(
    band(d_m, "#ff0000", 0.45, x_time(), yc_dom, yc_vals, "EWH (cm)"),
    band(d_s, "#bf00bf", 0.4, x_time(), yc_dom, yc_vals, "EWH (cm)"),
    line(d_m, x_time(), yc_dom, yc_vals, "EWH (cm)", "#ff0000"),
    line(d_s, x_time(), yc_dom, yc_vals, "EWH (cm)", "#bf00bf"),
    line(d_i, x_time(), yc_dom, yc_vals, "EWH (cm)", "#0000ff"),
    line(d_w, x_time(), yc_dom, yc_vals, "EWH (cm)", "black"),
).properties(width=LW, height=H2, title=ttl("c) CONGO: TWS anomalies"))

# ---------------- panel d ----------------
yd_dom, yd_vals = [-17, 338], [0, 50, 100, 150, 200, 250, 300]
pm = psd_df(psd_period, psd_mascons, "GRACE mascons", psd_mascons_sd)
ps = psd_df(psd_period, psd_sh, "GRACE sh", psd_sh_sd)
pi = psd_df(psd_period, psd_isba, "ISBA")
pw = psd_df(psd_period, psd_wghm, "WGHM")
panel_d = alt.layer(
    band(pm, "#ff0000", 0.45, x_period(), yd_dom, yd_vals, PT),
    band(ps, "#bf00bf", 0.45, x_period(), yd_dom, yd_vals, PT),
    legend_lines([pm, ps, pi, pw], x_period(), yd_dom, yd_vals, PT,
                 ["GRACE mascons", "GRACE sh", "ISBA", "WGHM"],
                 ["#ff0000", "#bf00bf", "#0000ff", "black"],
                 make_legend(orient="none", columns=2, legendX=6, legendY=68)),
).properties(width=RW, height=H2, title=ttl("d) Power Spectral Density of TWS anomalies"))

# ---------------- panel e ----------------
ye_dom, ye_vals = [-7.9, 8.65], [-6, -4, -2, 0, 2, 4, 6, 8]
e_mi = pairs_df(res_mascons_isba, "GRACE mascons - ISBA", res_err_mascons_isba)
e_si = pairs_df(res_sh_isba, "GRACE sh - ISBA", res_err_sh_isba)
e_mw = pairs_df(res_mascons_wghm, "GRACE mascons - WGHM", res_err_mascons_wghm)
e_sw = pairs_df(res_sh_wghm, "GRACE sh - WGHM", res_err_sh_wghm)
XT = x_time("Time(years)")
panel_e = alt.layer(
    band(e_mi, "#0000ff", 0.45, XT, ye_dom, ye_vals, "EWH (cm)"),
    band(e_si, "#00bfbf", 0.45, XT, ye_dom, ye_vals, "EWH (cm)"),
    line(e_si, XT, ye_dom, ye_vals, "EWH (cm)", "#00bfbf"),
    line(e_mi, XT, ye_dom, ye_vals, "EWH (cm)", "#0000ff"),
    band(e_sw, "#808080", 0.4, XT, ye_dom, ye_vals, "EWH (cm)"),
    band(e_mw, "#404040", 0.35, XT, ye_dom, ye_vals, "EWH (cm)"),
    line(e_sw, XT, ye_dom, ye_vals, "EWH (cm)", "#808080"),
    line(e_mw, XT, ye_dom, ye_vals, "EWH (cm)", "black"),
).properties(width=LW, height=H3, title=ttl("e) CONGO: residual TWS anomalies"))

# ---------------- panel f ----------------
yf_dom, yf_vals = [-14.5, 303.5], [0, 50, 100, 150, 200, 250, 300]
f_mi = psd_df(psd_period, psd_r_mascons_isba, "GRACE mascons - ISBA", psd_r_mascons_isba_sd)
f_si = psd_df(psd_period, psd_r_sh_isba, "GRACE sh - ISBA", psd_r_sh_isba_sd)
f_mw = psd_df(psd_period, psd_r_mascons_wghm, "GRACE mascons - WGHM", psd_r_mascons_wghm_sd)
f_sw = psd_df(psd_period, psd_r_sh_wghm, "GRACE sh - WGHM", psd_r_sh_wghm_sd)
XP = x_period("Periods (years)")
panel_f = alt.layer(
    band(f_mi, "#0000ff", 0.45, XP, yf_dom, yf_vals, PT),
    band(f_si, "#00bfbf", 0.45, XP, yf_dom, yf_vals, PT),
    band(f_sw, "#808080", 0.4, XP, yf_dom, yf_vals, PT),
    band(f_mw, "#404040", 0.3, XP, yf_dom, yf_vals, PT),
    legend_lines([f_mi, f_si, f_sw, f_mw], XP, yf_dom, yf_vals, PT,
                 ["GRACE mascons - ISBA", "GRACE mascons - WGHM", "GRACE sh - ISBA", "GRACE sh - WGHM"],
                 ["#0000ff", "black", "#00bfbf", "#808080"],
                 make_legend(orient="top-right", columns=2, offset=5)),
).properties(width=RW, height=H3, title=ttl("f) Power Spectral Density of residual TWS anomalies"))

chart = alt.concat(
    panel_a, panel_b, panel_c, panel_d, panel_e, panel_f,
    columns=2, spacing={"row": 48, "column": 68}, bounds="flush",
).resolve_scale(
    x="independent", y="independent", color="independent"
).resolve_legend(
    color="independent"
).properties(
    padding={"left": 0, "top": 0, "right": 5, "bottom": 0}, background="white"
).configure_view(
    stroke="#222222", strokeWidth=1
).configure_axis(
    labelFont=FONT, labelFontSize=11.5, labelColor="black",
    titleFont=FONT, titleFontSize=13.5, titleFontWeight="bold", titleColor="black",
    tickColor="black", tickSize=4, domain=False, grid=True,
    gridColor="#c8c8c8", gridWidth=1, labelPadding=2,
).configure_axisY(
    titlePadding=9
).configure_axisX(
    titlePadding=5
)

chart.save("out.html", embed_options={"renderer": "svg", "actions": False})
